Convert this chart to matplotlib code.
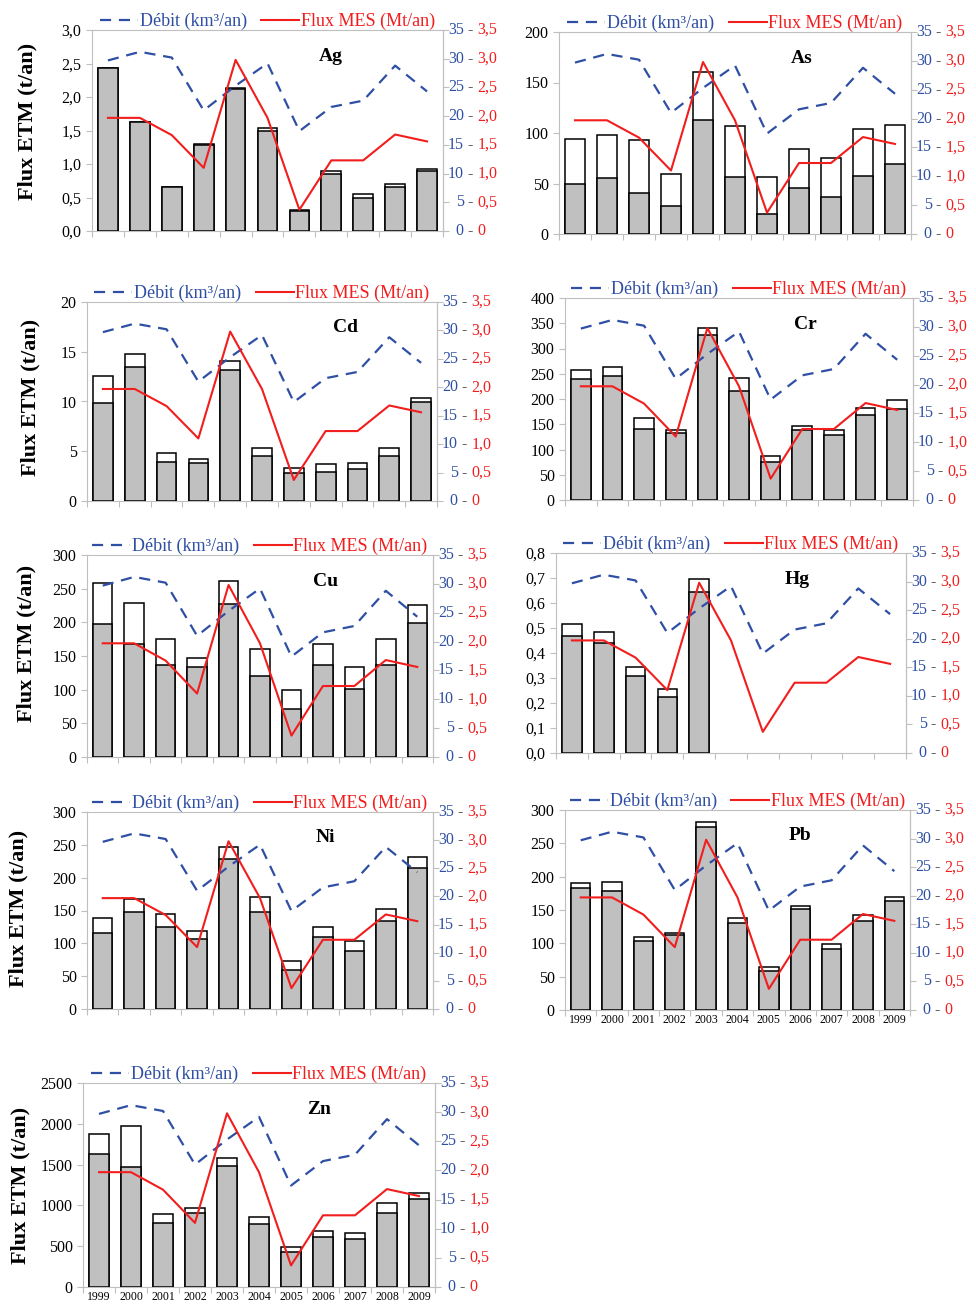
import numpy as np
import matplotlib
matplotlib.use("Agg")
import matplotlib.pyplot as plt

plt.rcParams['font.family'] = ['Liberation Serif', 'DejaVu Serif']

# data
years = [1999, 2000, 2001, 2002, 2003, 2004, 2005, 2006, 2007, 2008, 2009]
debit = [29.7, 31.2, 30.2, 21.0, 25.3, 29.2, 17.4, 21.6, 22.7, 28.8, 24.3]   # km3/an
mes = [1.97, 1.97, 1.67, 1.10, 2.98, 1.97, 0.37, 1.23, 1.23, 1.68, 1.56]     # Mt/an

debit_ticks = ["0", "5", "10", "15", "20", "25", "30", "35"]
mes_ticks = ["0", "0,5", "1,0", "1,5", "2,0", "2,5", "3,0", "3,5"]

elements = ["Ag", "As", "Cd", "Cr", "Cu", "Hg", "Ni", "Pb", "Zn"]

# total flux (top of white part) and particulate part (grey)
ag_total = [2.44, 1.63, 0.66, 1.30, 2.13, 1.54, 0.32, 0.89, 0.55, 0.70, 0.92]
ag_part = [2.43, 1.62, 0.65, 1.29, 2.12, 1.49, 0.30, 0.85, 0.50, 0.66, 0.89]
as_total = [94, 98, 93, 59, 160, 107, 56, 84, 75, 104, 108]
as_part = [50, 55, 41, 28, 113, 56, 20, 46, 37, 57, 69]
cd_total = [12.6, 14.8, 4.8, 4.25, 14.1, 5.3, 3.35, 3.7, 3.8, 5.3, 10.4]
cd_part = [9.8, 13.5, 3.9, 3.8, 13.2, 4.5, 2.8, 2.95, 3.2, 4.5, 9.9]
cr_total = [257, 263, 162, 139, 340, 242, 87, 147, 139, 182, 199]
cr_part = [240, 246, 140, 132, 326, 216, 76, 138, 128, 168, 181]
cu_total = [259, 228, 175, 147, 262, 160, 99, 168, 134, 175, 226]
cu_part = [197, 168, 137, 133, 227, 120, 71, 137, 101, 137, 199]
hg_total = [0.516, 0.483, 0.345, 0.255, 0.695, np.nan, np.nan, np.nan, np.nan, np.nan, np.nan]
hg_part = [0.469, 0.44, 0.309, 0.224, 0.645, np.nan, np.nan, np.nan, np.nan, np.nan, np.nan]
ni_total = [138, 168, 145, 119, 246, 170, 73, 125, 104, 153, 232]
ni_part = [115, 148, 125, 106, 228, 147, 60, 109, 88, 134, 214]
pb_total = [191, 192, 110, 115, 282, 138, 64, 156, 99, 142, 169]
pb_part = [183, 178, 104, 112, 275, 130, 58, 151, 91, 134, 164]
zn_total = [1873, 1967, 893, 971, 1586, 852, 492, 689, 656, 1025, 1148]
zn_part = [1635, 1475, 787, 906, 1488, 775, 426, 611, 586, 906, 1082]

totals = [ag_total, as_total, cd_total, cr_total, cu_total, hg_total, ni_total, pb_total, zn_total]
parts = [ag_part, as_part, cd_part, cr_part, cu_part, hg_part, ni_part, pb_part, zn_part]

y_ticks = [
    ["0,0", "0,5", "1,0", "1,5", "2,0", "2,5", "3,0"],
    ["0", "50", "100", "150", "200"],
    ["0", "5", "10", "15", "20"],
    ["0", "50", "100", "150", "200", "250", "300", "350", "400"],
    ["0", "50", "100", "150", "200", "250", "300"],
    ["0,0", "0,1", "0,2", "0,3", "0,4", "0,5", "0,6", "0,7", "0,8"],
    ["0", "50", "100", "150", "200", "250", "300"],
    ["0", "50", "100", "150", "200", "250", "300"],
    ["0", "500", "1000", "1500", "2000", "2500"],
]

# layout (pixels: left, right, top, bottom)
W, H = 976, 1308
boxes = [
    (92, 443, 30, 231), (559, 911, 32, 234),
    (87, 437, 302, 501), (565, 913, 298, 500),
    (87, 433, 555, 757), (556, 906, 553, 753),
    (87, 433, 812, 1009), (565, 910, 810, 1010),
    (83, 435, 1083, 1287),
]
label_x = [0.68, 0.69, 0.74, 0.69, 0.69, 0.69, 0.69, 0.68, 0.67]
ylab_pos = {"Ag": (27, 121), "Cd": (30, 397), "Cu": (26, 643), "Ni": (18, 908), "Zn": (20, 1185)}

blue = '#2E4FA3'
red = '#F21D1D'
frame = '#BFBFBF'

fig = plt.figure(figsize=(W / 100, H / 100), dpi=100)
x = np.arange(len(years))

for i, el in enumerate(elements):
    l, r, t, b = boxes[i]
    ax = fig.add_axes([l / W, 1 - b / H, (r - l) / W, (b - t) / H])
    tot = np.array(totals[i], dtype=float)
    par = np.array(parts[i], dtype=float)
    ax.bar(x, tot, width=0.62, color='white', edgecolor='black', linewidth=1.1, zorder=2)
    ax.bar(x, par, width=0.62, color='#C0C0C0', edgecolor='black', linewidth=1.1, zorder=3)

    labels = y_ticks[i]
    ymax = float(labels[-1].replace(',', '.'))
    ax.set_xlim(-0.5, len(years) - 0.5)
    ax.set_ylim(0, ymax)
    ax.set_yticks(np.linspace(0, ymax, len(labels)))
    ax.set_yticklabels(labels, fontsize=11.5)
    ax.set_xticks(np.arange(-0.5, len(years), 1))
    ax.set_xticklabels([])
    if el in ("Pb", "Zn"):
        ax.set_xticks(x, minor=True)
        ax.set_xticklabels([str(y) for y in years], minor=True, fontsize=8.5)
        ax.tick_params(axis='x', which='minor', length=0, pad=3)
    ax.tick_params(axis='both', which='major', length=4, color=frame, direction='out')
    for s in ax.spines.values():
        s.set_color(frame)
        s.set_linewidth(0.8)

    ax.text(label_x[i], 0.87, el, transform=ax.transAxes, fontsize=14,
            fontweight='bold', ha='center', va='center', zorder=5)

    ax2 = ax.twinx()
    ax2.set_ylim(0, 35)
    l1, = ax2.plot(x, debit, color=blue, linestyle=(0, (5, 3.5)), linewidth=1.6)
    l2, = ax2.plot(x, np.array(mes) * 10, color=red, linewidth=1.5)
    ax2.set_yticks(np.arange(0, 36, 5))
    ax2.set_yticklabels([])
    ax2.tick_params(axis='y', length=4, color=frame, direction='out')
    for name, s in ax2.spines.items():
        s.set_visible(name == 'right')
        s.set_color(frame)
        s.set_linewidth(0.8)

    for k, v in enumerate(np.arange(0, 36, 5)):
        t1 = ax2.annotate(debit_ticks[k], xy=(1, v), xycoords=('axes fraction', 'data'),
                          xytext=(15, 0), textcoords='offset points', ha='right',
                          va='center', color=blue, fontsize=11.5, annotation_clip=False)
        t2 = ax2.annotate(" - ", xy=(1, 0.5), xycoords=t1, ha='left', va='center',
                          color='#333333', fontsize=11.5)
        ax2.annotate(mes_ticks[k], xy=(1, 0.5), xycoords=t2, ha='left', va='center',
                     color=red, fontsize=11.5)

    leg = ax2.legend([l1, l2], ["Débit (km³/an)", "Flux MES (Mt/an)"], loc='lower center',
                     bbox_to_anchor=(0.5, 0.99), ncol=2, frameon=False, fontsize=13,
                     handlelength=2.1, handletextpad=0.1, columnspacing=0.8,
                     borderpad=0.1, borderaxespad=0)
    leg.get_texts()[0].set_color(blue)
    leg.get_texts()[1].set_color(red)

    if el in ylab_pos:
        px, py = ylab_pos[el]
        fig.text(px / W, 1 - py / H, "Flux ETM (t/an)", rotation=90, fontsize=16,
                 fontweight='bold', ha='center', va='center')

fig.savefig("out.png", dpi=100)
